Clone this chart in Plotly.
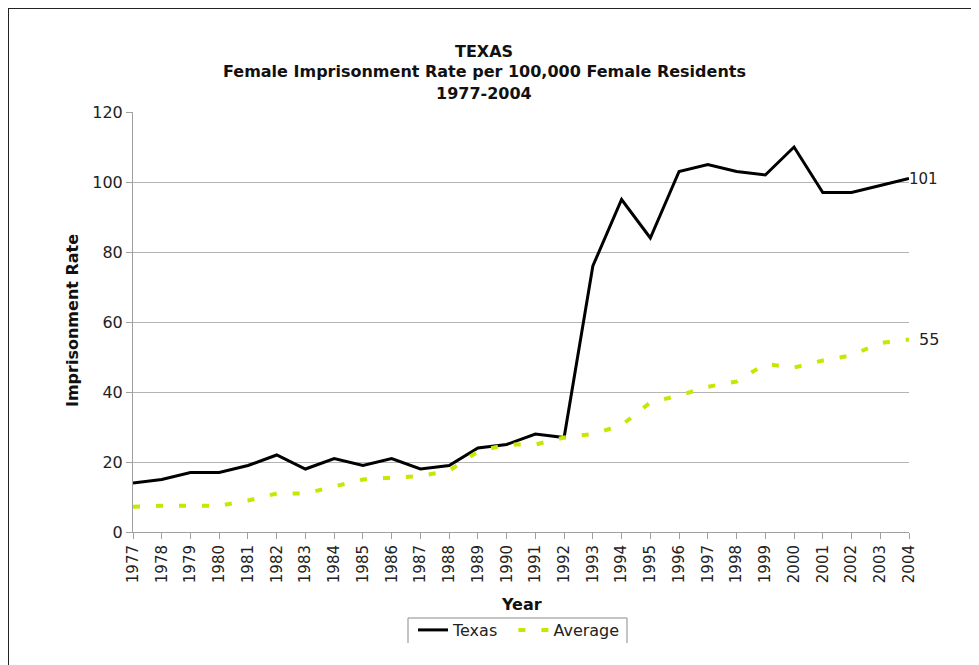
import plotly.graph_objects as go

years = list(range(1977, 2005))
texas = [14, 15, 17, 17, 19, 22, 18, 21, 19, 21, 18, 19, 24, 25, 28, 27,
         76, 95, 84, 103, 105, 103, 102, 110, 97, 97, 99, 101]
average = [7.2, 7.5, 7.5, 7.5, 9, 11, 11, 13, 15, 15.5, 16, 17.5, 23, 25, 25, 27,
           28, 30.5, 37, 39, 41.5, 43, 48, 47, 49, 50.5, 54, 55]
title_lines = ["TEXAS", "Female Imprisonment Rate per 100,000 Female Residents", "1977-2004"]

# page offset of the figure (body margin)
OFF = 8
W, H = 979 - OFF, 665 - OFF
# plot area in screen (reference) pixels
X0, X1, Y0, Y1 = 133, 909, 112, 532
L, R, T, B = X0 - OFF, W - (X1 - OFF), Y0 - OFF, H - (Y1 - OFF)
PW, PH = X1 - X0, Y1 - Y0

def px(x):
    return (x - X0) / PW

def py(y):
    return (Y1 - y) / PH

FONT = "DejaVu Sans, Verdana, sans-serif"

fig = go.Figure()
fig.add_trace(go.Scatter(x=years, y=texas, mode="lines", name="Texas\u00a0\u00a0",
                         line=dict(color="black", width=3)))
fig.add_trace(go.Scatter(x=years, y=average, mode="lines", name="Average",
                         line=dict(color="#c8e600", width=4, dash="7px,16px")))

annotations = []
for txt, ypix in zip(title_lines, [51, 72, 94]):
    annotations.append(dict(text="<b>%s</b>" % txt, xref="paper", yref="paper",
                            x=px(484), y=py(ypix), xanchor="center", yanchor="middle",
                            showarrow=False, font=dict(family=FONT, size=16, color="#111")))
annotations.append(dict(text="<b>Year</b>", xref="paper", yref="paper", x=px(521), y=py(604),
                        xanchor="center", yanchor="middle", showarrow=False,
                        font=dict(family=FONT, size=16, color="#111")))
annotations.append(dict(text="<b>Imprisonment Rate</b>", xref="paper", yref="paper",
                        x=px(72), y=py(321), xanchor="center", yanchor="middle",
                        textangle=-90, showarrow=False,
                        font=dict(family=FONT, size=16, color="#111")))
annotations.append(dict(text=str(texas[-1]), x=years[-1], y=texas[-1], xref="x", yref="y",
                        xanchor="left", yanchor="middle", xshift=-2, showarrow=False,
                        font=dict(family=FONT, size=15, color="#222")))
annotations.append(dict(text=str(average[-1]), x=years[-1], y=average[-1], xref="x", yref="y",
                        xanchor="left", yanchor="middle", xshift=8, showarrow=False,
                        font=dict(family=FONT, size=16, color="#222")))

shapes = [
    dict(type="line", xref="paper", yref="paper", x0=px(8), x1=px(985), y0=py(8), y1=py(8),
         line=dict(color="#222", width=2)),
    dict(type="line", xref="paper", yref="paper", x0=px(8), x1=px(8), y0=py(8), y1=py(670),
         line=dict(color="#222", width=2)),
    dict(type="line", xref="paper", yref="paper", x0=px(408), x1=px(627), y0=py(618), y1=py(618),
         line=dict(color="#b0b0b0", width=1.5)),
    dict(type="line", xref="paper", yref="paper", x0=px(408), x1=px(408), y0=py(618), y1=py(643),
         line=dict(color="#b0b0b0", width=1.5)),
    dict(type="line", xref="paper", yref="paper", x0=px(627), x1=px(627), y0=py(618), y1=py(643),
         line=dict(color="#b0b0b0", width=1.5)),
]

fig.update_layout(
    width=W, height=H,
    margin=dict(l=L, r=R, t=T, b=B, autoexpand=False),
    paper_bgcolor="white", plot_bgcolor="white",
    font=dict(family=FONT, size=13, color="#222"),
    showlegend=True,
    legend=dict(orientation="h", x=px(413), y=py(613), xanchor="left", yanchor="top",
                font=dict(family=FONT, size=16, color="#222"), bgcolor="rgba(0,0,0,0)",
                tracegroupgap=0),
    annotations=annotations,
    shapes=shapes,
    xaxis=dict(range=[1977, 2004], tickmode="array", tickvals=years,
               ticktext=[str(y) for y in years], tickangle=-90,
               showgrid=False, zeroline=False, showline=True, linecolor="#a0a0a0", linewidth=1,
               ticks="outside", ticklen=6, tickcolor="#a0a0a0",
               tickfont=dict(family=FONT, size=15, color="#222")),
    yaxis=dict(range=[0, 120], tickmode="array", tickvals=[0, 20, 40, 60, 80, 100, 120],
               showgrid=True, gridcolor="#b4b4b4", gridwidth=1, zeroline=False,
               showline=True, linecolor="#a0a0a0", linewidth=1,
               ticks="outside", ticklen=6, tickcolor="#a0a0a0",
               tickfont=dict(family=FONT, size=16, color="#222")),
)

fig.write_html("out.html")
